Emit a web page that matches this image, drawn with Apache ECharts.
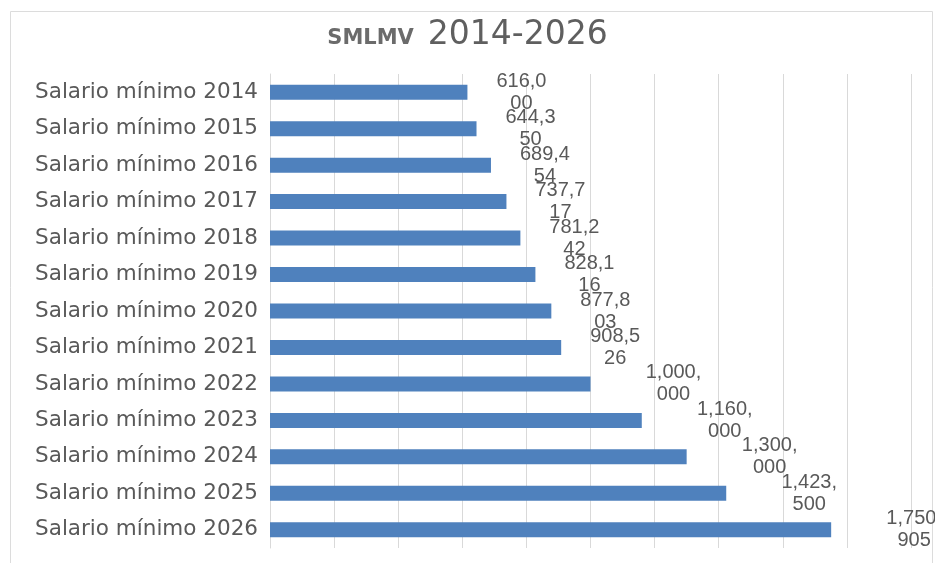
<!DOCTYPE html>
<html>
<head>
<meta charset="utf-8">
<script src="https://cdn.jsdelivr.net/npm/echarts@6/dist/echarts.min.js"></script>
<style>
html,body{margin:0;padding:0;background:#fff;}
#chart{width:935px;height:563px;}
</style>
</head>
<body>
<div id="chart"></div>
<script>
var categories = ['Salario mínimo 2014','Salario mínimo 2015','Salario mínimo 2016','Salario mínimo 2017','Salario mínimo 2018','Salario mínimo 2019','Salario mínimo 2020','Salario mínimo 2021','Salario mínimo 2022','Salario mínimo 2023','Salario mínimo 2024','Salario mínimo 2025','Salario mínimo 2026'];
var values = [616000, 644350, 689454, 737717, 781242, 828116, 877803, 908526, 1000000, 1160000, 1300000, 1423500, 1750905];
var titleMain = 'SMLMV';
var titleYears = '2014-2026';
var axisMax = 2000000;
var axisStep = 200000;

function fmt(v){ return String(v).replace(/\B(?=(\d{3})+(?!\d))/g, ','); }

var chart = echarts.init(document.getElementById('chart'), null, {renderer:'canvas'});
var seriesData = values.map(function(v){
  return { value: v, label: { distance: v >= 1000000 ? 83 : 54 } };
});

chart.setOption({
  backgroundColor: '#ffffff',
  animation: false,
  title: {
    text: '{a|' + titleMain + '}{b|' + titleYears + '}',
    left: 'center',
    top: 14,
    textStyle: {
      fontWeight: 'normal',
      rich: {
        a: { fontFamily: 'DejaVu Sans', fontSize: 21, fontWeight: 'bold', color: '#6b6b6b', verticalAlign: 'bottom', padding: [0,14,3,0] },
        b: { fontFamily: 'DejaVu Sans', fontSize: 33, fontWeight: 'normal', color: '#5f5f5f', verticalAlign: 'bottom' }
      }
    }
  },
  graphic: [{
    type: 'rect', left: 8, top: 9, silent: true,
    shape: { width: 922, height: 580 },
    style: { fill: 'none', stroke: '#dcdcdc', lineWidth: 1 }
  }],
  grid: { left: 270, right: 24, top: 74, bottom: 15, containLabel: false },
  xAxis: {
    type: 'value', min: 0, max: axisMax, interval: axisStep,
    axisLine: { show: false }, axisTick: { show: false }, axisLabel: { show: false },
    splitLine: { show: true, lineStyle: { color: '#d9d9d9', width: 1 } }
  },
  yAxis: {
    type: 'category', data: categories, inverse: true,
    axisLine: { show: true, lineStyle: { color: '#d9d9d9', width: 1 } },
    axisTick: { show: false },
    axisLabel: { fontFamily: 'DejaVu Sans', fontSize: 21.5, color: '#595959', margin: 12 }
  },
  series: [{
    type: 'bar',
    data: seriesData,
    barWidth: 15,
    itemStyle: { color: '#4f81bd' },
    label: {
      show: true, position: 'right', align: 'center', verticalAlign: 'middle',
      width: 58, overflow: 'breakAll',
      fontFamily: 'Liberation Sans', fontSize: 20, lineHeight: 22, color: '#595959',
      formatter: function(p){ return fmt(p.value); }
    }
  }]
});
</script>
</body>
</html>
